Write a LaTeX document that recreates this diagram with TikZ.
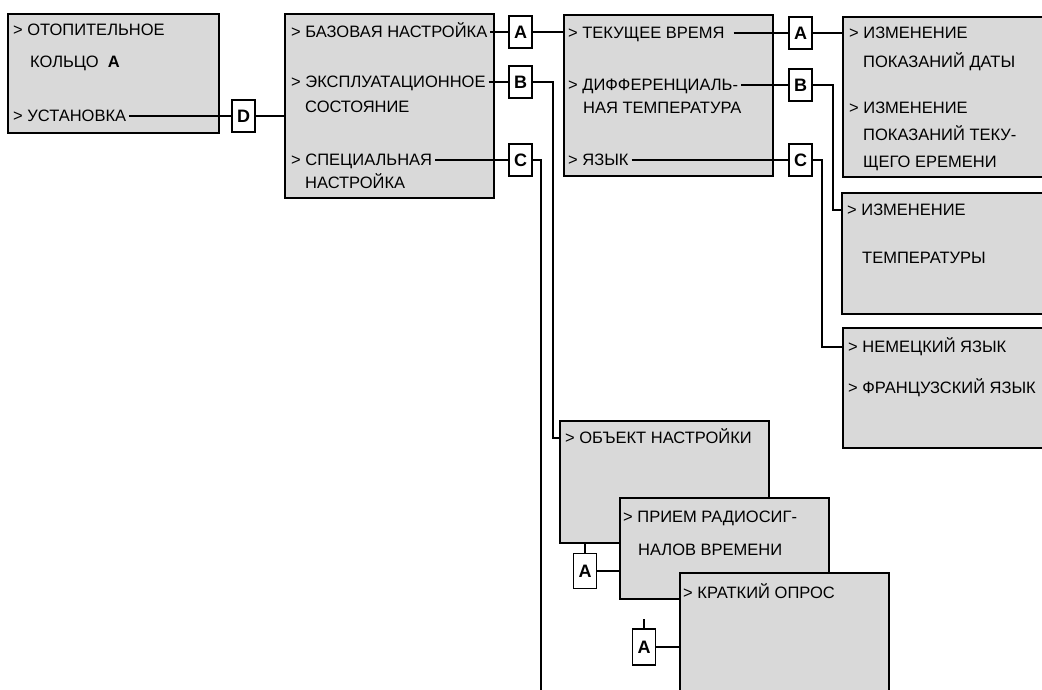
\documentclass[tikz,border=0pt]{standalone}
\usepackage{fontspec}
\setmainfont{Liberation Sans}
\usetikzlibrary{calc}
\begin{document}
\begin{tikzpicture}[x=1pt,y=-1pt,
  menubox/.style={draw=black, line width=1.8pt, fill=black!15, inner sep=0pt, anchor=north west},
  item/.style={anchor=west, inner xsep=3pt, inner ysep=0pt, text height=11.6pt, text depth=0pt, font=\fontsize{16.5}{19}\selectfont},
  tag/.style={draw=black, line width=1.4pt, fill=white, inner sep=0pt, minimum width=23pt, minimum height=32pt, font=\fontsize{18}{21}\selectfont\bfseries},
  wire/.style={line width=1.5pt}]
\useasboundingbox (0,0) rectangle (1042,690);
\clip (0,0) rectangle (1042,690);

% boxes column 1 and 2
\node[menubox, minimum width=211pt, minimum height=119pt] (b1) at (7,13) {};
\node[item] (t1a) at (10,30) {> ОТОПИТЕЛЬНОЕ};
\node[item] (t1b) at (27,62) {КОЛЬЦО\ \ \textbf{A}};
\node[item] (t1c) at (10,116) {> УСТАНОВКА};

\node[menubox, minimum width=209pt, minimum height=184pt] (b2) at (284,13) {};
\node[item] (t2a) at (288,32) {> БАЗОВАЯ НАСТРОЙКА};
\node[item] (t2b) at (288,82) {> ЭКСПЛУАТАЦИОННОЕ};
\node[item] (t2b2) at (302,107) {СОСТОЯНИЕ};
\node[item] (t2c) at (288,160) {> СПЕЦИАЛЬНАЯ};
\node[item] (t2c2) at (302,183) {НАСТРОЙКА};

\node[menubox, minimum width=209pt, minimum height=161pt] (b3) at (563,14) {};
\node[item] (t3a) at (565,33) {> ТЕКУЩЕЕ ВРЕМЯ};
\node[item] (t3b) at (565,85) {> ДИФФЕРЕНЦИАЛЬ-};
\node[item] (t3b2) at (580,108) {НАЯ ТЕМПЕРАТУРА};
\node[item] (t3c) at (565,160) {> ЯЗЫК};

% right column
\node[menubox, minimum width=230pt, minimum height=160pt] (b4a) at (842,16) {};
\node[item] (t4a1) at (846,33) {> ИЗМЕНЕНИЕ};
\node[item] (t4a2) at (860,62) {ПОКАЗАНИЙ ДАТЫ};
\node[item] (t4a3) at (846,108) {> ИЗМЕНЕНИЕ};
\node[item] (t4a4) at (860,135) {ПОКАЗАНИЙ ТЕКУ-};
\node[item] (t4a5) at (860,162) {ЩЕГО ЕРЕМЕНИ};

\node[menubox, minimum width=230pt, minimum height=121pt] (b4b) at (841,192) {};
\node[item] (t4b1) at (844,210) {> ИЗМЕНЕНИЕ};
\node[item] (t4b2) at (859,258) {ТЕМПЕРАТУРЫ};

\node[menubox, minimum width=230pt, minimum height=120pt] (b5) at (842,327) {};
\node[item] (t5a) at (845,347) {> НЕМЕЦКИЙ ЯЗЫК};
\node[item] (t5b) at (845,388) {> ФРАНЦУЗСКИЙ ЯЗЫК};

% lower cascade
\node[menubox, minimum width=209pt, minimum height=122pt] (b6) at (559,420) {};
\node[item] (t6a) at (562,438) {> ОБЪЕКТ НАСТРОЙКИ};

\node[menubox, minimum width=209pt, minimum height=101pt] (b7) at (619,497) {};
\node[item] (t7a) at (620,517) {> ПРИЕМ РАДИОСИГ-};
\node[item] (t7b) at (635,550) {НАЛОВ ВРЕМЕНИ};

\node[menubox, minimum width=209pt, minimum height=140pt] (b8) at (679,572) {};
\node[item] (t8a) at (680,593) {> КРАТКИЙ ОПРОС};

% tags
\node[tag] (lD) at (243.5,116) {D};
\node[tag] (lA1) at (520.5,32) {A};
\node[tag] (lB1) at (520.5,82) {B};
\node[tag] (lC1) at (520.5,160) {C};
\node[tag] (lA2) at (800.5,33) {A};
\node[tag] (lB2) at (800.5,85) {B};
\node[tag] (lC2) at (800.5,160) {C};
\node[tag, minimum height=35pt] (lA3) at (585,571) {A};
\node[tag, minimum height=36pt] (lA4) at (644,647) {A};

% helper coordinates
\coordinate (jB) at (553,0);
\coordinate (cEnd) at (541,700);
\coordinate (jB2) at (833,0);
\coordinate (jC2) at (822,0);
\coordinate (s4) at ($(lA4.north)+(0,-9)$);

% wires
\draw[wire] (t1c.east) -- (lD.west);
\draw[wire] (lD.east) -- (b2.west |- lD.east);
\draw[wire] (t2a.east) -- (lA1.west);
\draw[wire] (lA1.east) -- (b3.west |- lA1.east);
\draw[wire] (t2b.east) -- (lB1.west);
\draw[wire] (lB1.east) -| (jB |- t6a.west) -- (b6.west |- t6a.west);
\draw[wire] (t2c.east) -- (lC1.west);
\draw[wire] (lC1.east) -| (cEnd);
\draw[wire] ([xshift=6pt]t3a.east) -- (lA2.west);
\draw[wire] (lA2.east) -- (b4a.west |- lA2.east);
\draw[wire] (t3b.east) -- (lB2.west);
\draw[wire] (lB2.east) -| (jB2 |- t4b1.west) -- (b4b.west |- t4b1.west);
\draw[wire] (t3c.east) -- (lC2.west);
\draw[wire] (lC2.east) -| (jC2 |- t5a.west) -- (b5.west |- t5a.west);
\draw[wire] (b6.south -| lA3.north) -- (lA3.north);
\draw[wire] (lA3.east) -- (b7.west |- lA3.east);
\draw[wire] (s4) -- (lA4.north);
\draw[wire] (lA4.east) -- (b8.west |- lA4.east);
\end{tikzpicture}
\end{document}
